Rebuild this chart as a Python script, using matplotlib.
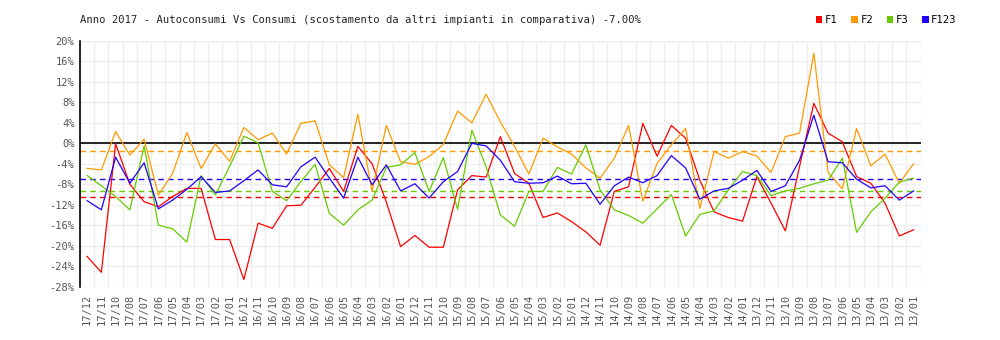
import matplotlib
matplotlib.use("Agg")
import matplotlib.pyplot as plt
from matplotlib.patches import Patch

# months, most recent first (17/09 is absent in the source)
months = ["17/12", "17/11", "17/10", "17/08", "17/07", "17/06", "17/05", "17/04",
          "17/03", "17/02", "17/01",
          "16/12", "16/11", "16/10", "16/09", "16/08", "16/07", "16/06", "16/05",
          "16/04", "16/03", "16/02", "16/01",
          "15/12", "15/11", "15/10", "15/09", "15/08", "15/07", "15/06", "15/05",
          "15/04", "15/03", "15/02", "15/01",
          "14/12", "14/11", "14/10", "14/09", "14/08", "14/07", "14/06", "14/05",
          "14/04", "14/03", "14/02", "14/01",
          "13/12", "13/11", "13/10", "13/09", "13/08", "13/07", "13/06", "13/05",
          "13/04", "13/03", "13/02", "13/01"]

f1 = [-22.1, -25.2, -0.1, -8.0, -11.4, -12.4, -10.4, -8.8, -8.8, -18.8,
      -18.8, -26.6, -15.6, -16.6, -12.2, -12.1, -8.6, -4.9, -9.4, -0.6,
      -4.0, -11.5, -20.2, -18.0, -20.3, -20.3, -9.1, -6.3, -6.6, 1.3,
      -5.9, -7.8, -14.5, -13.6, -15.3, -17.3, -19.9, -9.4, -8.5, 3.9,
      -2.5, 3.5, 1.0, -7.2, -13.4, -14.5, -15.2, -6.5, -11.7, -17.1,
      -4.5, 7.8, 2.0, 0.3, -6.5, -7.8, -11.7, -18.1, -16.9]

f2 = [-4.9, -5.2, 2.3, -2.3, 0.8, -10.1, -5.9, 2.1, -4.9, -0.1,
      -3.5, 3.1, 0.7, 2.0, -2.1, 3.9, 4.4, -4.2, -6.7, 5.7,
      -9.4, 3.5, -3.6, -4.1, -2.6, -0.2, 6.3, 4.0, 9.6, 4.2,
      -0.6, -6.0, 1.0, -0.7, -2.1, -4.8, -6.8, -2.9, 3.5, -11.3,
      -3.9, -0.3, 2.9, -12.7, -1.6, -2.9, -1.6, -2.5, -5.7, 1.3,
      2.0, 17.6, -5.7, -8.9, 2.9, -4.4, -2.1, -7.8, -4.0]

f3 = [-6.3, -8.3, -10.4, -13.0, -0.5, -16.0, -16.7, -19.3, -6.3, -10.1,
      -4.5, 1.4, 0.1, -9.4, -11.2, -7.5, -4.1, -13.7, -16.0, -13.0,
      -11.1, -4.7, -4.2, -1.8, -9.4, -2.8, -12.9, 2.6, -4.6, -14.0,
      -16.2, -9.4, -9.4, -4.7, -6.0, -0.3, -9.1, -13.0, -14.1, -15.6,
      -12.8, -10.0, -18.1, -13.9, -13.2, -9.1, -5.5, -6.3, -10.2, -9.3,
      -8.8, -7.9, -7.2, -2.9, -17.4, -13.4, -10.7, -7.6, -6.8]

f123 = [-11.2, -13.0, -2.7, -7.8, -3.8, -12.8, -11.1, -9.0, -6.5, -9.6,
        -9.3, -7.3, -5.2, -8.1, -8.5, -4.6, -2.7, -6.8, -10.7, -2.7,
        -8.1, -4.2, -9.3, -7.9, -10.7, -7.5, -5.5, 0.0, -0.5, -3.3,
        -7.5, -7.8, -7.7, -6.4, -7.9, -7.8, -11.9, -8.3, -6.6, -7.7,
        -6.3, -2.4, -4.8, -10.9, -9.3, -8.8, -7.2, -5.3, -9.4, -8.3,
        -3.3, 5.5, -3.6, -3.8, -7.0, -8.7, -8.3, -11.1, -9.3]

# average lines (dashed)
avg = [-10.5, -1.55, -9.35, -7.0]

names = ["F1", "F2", "F3", "F123"]
colors = ["#ff0000", "#ff9900", "#66cc00", "#2200ff"]
series = [f1, f2, f3, f123]

mono = "DejaVu Sans Mono"

fig = plt.figure(figsize=(10, 3.4), dpi=100)
ax = fig.add_axes([0.080, 0.157, 0.8407, 0.7225])

n = len(months)
x = list(range(n))

# grid
for k in range(n + 1):
    ax.axvline(k - 0.5, color="#eeeeee", lw=1, zorder=0)
for v in range(-28, 21, 4):
    ax.axhline(v, color="#eeeeee", lw=1, zorder=0)

for a, c in zip(avg, colors):
    ax.axhline(a, color=c, lw=1, ls=(0, (4, 3)), zorder=2)

ax.axhline(0, color="black", lw=1.2, zorder=2)

for vals, c in zip(series, colors):
    ax.plot(x, vals, color=c, lw=0.9, zorder=3)

ax.set_xlim(-0.5, n - 0.5)
ax.set_ylim(-28, 20)
ax.set_yticks(range(-28, 21, 4))
ax.set_yticklabels(["%d%%" % v for v in range(-28, 21, 4)],
                   fontsize=7.5, family=mono, color="#555555")
ax.set_xticks(x)
ax.set_xticklabels(months, rotation=90, fontsize=7.5, family=mono,
                   color="#555555")
ax.tick_params(length=0)
ax.tick_params(axis="x", pad=5)
ax.tick_params(axis="y", pad=4)

for s in ["top", "right", "bottom"]:
    ax.spines[s].set_visible(False)
ax.spines["left"].set_linewidth(1.2)

fig.text(0.080, 0.94, "Anno 2017 - Autoconsumi Vs Consumi (scostamento da "
         "altri impianti in comparativa) -7.00%", fontsize=7.6, family=mono,
         color="#222222", va="center", ha="left")

handles = [Patch(facecolor=c, edgecolor="none") for c in colors]
fig.legend(handles, names, loc="center right", bbox_to_anchor=(0.962, 0.94),
           ncol=4, frameon=False, prop={"family": mono, "size": 7.6},
           handlelength=0.6, handleheight=0.7, handletextpad=0.25,
           columnspacing=1.3, borderpad=0)

fig.savefig("out.png", dpi=100)
